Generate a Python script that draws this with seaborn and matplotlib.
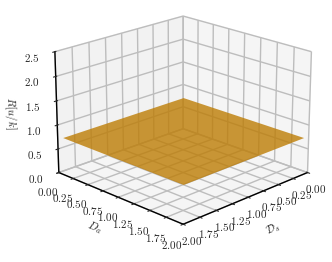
import numpy as np
import matplotlib
matplotlib.use("Agg")
import matplotlib.pyplot as plt
import seaborn as sns

d_s = [0.04, 1.96]
d_a = [0.04, 1.96]
rate = [[0.74, 0.74], [0.74, 0.74]]
ticks_xy = [0.0, 0.25, 0.5, 0.75, 1.0, 1.25, 1.5, 1.75, 2.0]
ticks_z = [0.0, 0.5, 1.0, 1.5, 2.0, 2.5]

sns.set_style("white")
plt.rcParams["mathtext.fontset"] = "cm"
plt.rcParams["font.size"] = 8

fig = plt.figure(figsize=(3.32, 2.62), dpi=100)
ax = fig.add_axes([0.041, 0.055, 1.0, 1.0], projection="3d")
ax.set_box_aspect((4, 4, 2.88), zoom=1.05)
X, Y = np.meshgrid(d_s, d_a)
ax.plot_surface(X, Y, np.array(rate), color="#bd7d05", alpha=0.8, linewidth=0, shade=False)

ax.set_xlim(0, 2)
ax.set_ylim(0, 2)
ax.set_zlim(0, 2.5)
ax.set_xticks(ticks_xy)
ax.set_yticks(ticks_xy)
ax.set_zticks(ticks_z)
ax.set_xticklabels(["$%.2f$" % t for t in ticks_xy])
ax.set_yticklabels(["$%.2f$" % t for t in ticks_xy])
ax.set_zticklabels(["$%.1f$" % t for t in ticks_z])
ax.set_xlabel(r"$\mathcal{D}_s$", labelpad=-3)
ax.set_ylabel("$D_a$", labelpad=-4)
ax.set_zlabel("$R[u/k]$", labelpad=-3)
ax.tick_params(axis="x", pad=-2, length=2)
ax.tick_params(axis="y", pad=0, length=2)
ax.tick_params(axis="z", pad=1, length=2)
ax.view_init(elev=20, azim=45)
for axis in (ax.xaxis, ax.yaxis, ax.zaxis):
    axis._axinfo["grid"]["color"] = "#bdbdbd"
    axis._axinfo["grid"]["linewidth"] = 1.0
    axis.line.set_color("black")
    axis.line.set_linewidth(1.0)
ax.xaxis.set_pane_color("#f5f5f5")
ax.yaxis.set_pane_color("#f2f2f2")
ax.zaxis.set_pane_color("#f5f5f5")
fig.savefig("out.png", dpi=100)
